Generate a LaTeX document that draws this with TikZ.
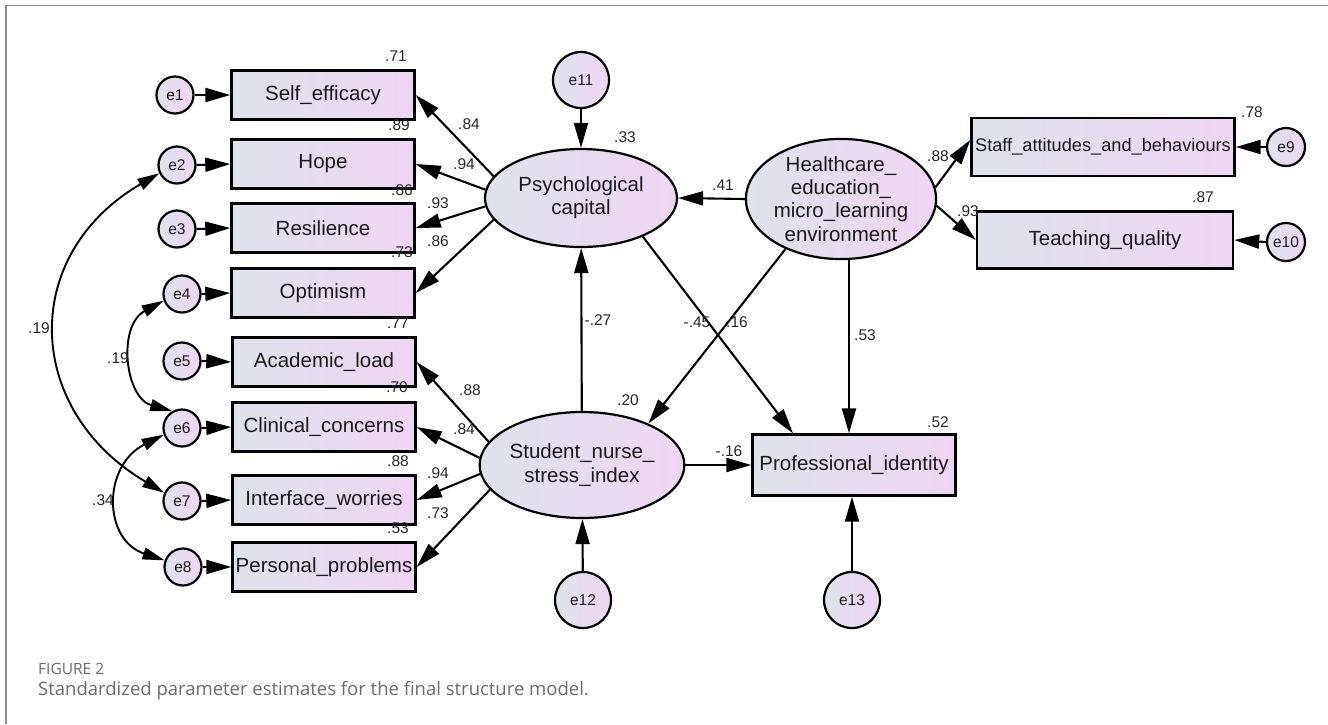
\documentclass[tikz,border=0pt]{standalone}
\usepackage{fontspec}
\setmainfont{Liberation Sans}
\newfontfamily\capfont{Open Sans}
\usetikzlibrary{arrows.meta,shapes.geometric,calc}
\definecolor{gL}{HTML}{DEE3EA}
\definecolor{gR}{HTML}{EED6F3}
\definecolor{frm}{HTML}{8E8E8E}
\definecolor{capc}{HTML}{6B6B6B}
\definecolor{txt}{HTML}{1A1A1A}
\definecolor{numc}{HTML}{262626}
\begin{document}
\begin{tikzpicture}[x=1pt,y=-1pt,
  obs/.style={draw=black,line width=2.4pt,left color=gL,right color=gR,minimum width=183pt,minimum height=49pt,inner sep=0pt,font=\fontsize{20.5}{23}\selectfont,text=txt},
  lat/.style={ellipse,draw=black,line width=2.2pt,left color=gL,right color=gR,inner sep=0pt,align=center,font=\fontsize{20.5}{23.3}\selectfont,text=txt},
  err/.style={circle,draw=black,line width=2.2pt,left color=gL,right color=gR,inner sep=0pt,minimum size=37pt,font=\fontsize{15.5}{17}\selectfont,text=txt},
  bigerr/.style={err,minimum size=56pt},
  arr/.style={line width=2.1pt,-{Triangle[length=25pt,width=14pt]}},
  biarr/.style={line width=1.9pt,{Triangle[length=22pt,width=12pt]}-{Triangle[length=22pt,width=12pt]}},
  num/.style={font=\fontsize{15.5}{17}\selectfont,text=numc,inner sep=0pt}
]
\useasboundingbox[fill=white] (0,0) rectangle (1328,724);
% frame
\draw[frm,line width=1.6pt] (6,724) -- (6,5.5) -- (1328,5.5);

% observed indicators (left)
\node[obs] (b1) at (323,95) {Self\_efficacy};
\node[obs] (b2) at (323,164) {Hope};
\node[obs] (b3) at (323,228) {Resilience};
\node[obs] (b4) at (323,293) {Optimism};
\node[obs] (b5) at (324,362) {Academic\_load};
\node[obs] (b6) at (324,427) {Clinical\_concerns};
\node[obs] (b7) at (324,500) {Interface\_worries};
\node[obs] (b8) at (324,567) {Personal\_problems};

% error circles (left)
\node[err] (e1) at (175,95) {e1};
\node[err] (e2) at (177,165) {e2};
\node[err] (e3) at (177,229) {e3};
\node[err] (e4) at (182,294) {e4};
\node[err] (e5) at (182,361) {e5};
\node[err] (e6) at (182,428) {e6};
\node[err] (e7) at (182,501) {e7};
\node[err] (e8) at (183,567) {e8};

% latent variables
\node[lat,minimum width=192pt,minimum height=98pt] (psy) at (581,198) {Psychological\\capital};
\node[lat,minimum width=186pt,minimum height=112pt] (hc) at (841,199) {Healthcare\_\\education\_\\micro\_learning\\environment};
\node[lat,minimum width=190pt,minimum height=106pt] (stu) at (582,465) {Student\_nurse\_\\stress\_index};

% right side
\node[obs,minimum width=263pt,minimum height=58pt,font=\fontsize{18.2}{21}\selectfont] (staff) at (1103,147) {Staff\_attitudes\_and\_behaviours};
\node[obs,minimum width=256pt,minimum height=57pt] (teach) at (1105,240) {Teaching\_quality};
\node[obs,minimum width=203pt,minimum height=61pt] (prof) at (854,465) {Professional\_identity};
\node[err,minimum size=38pt] (e9) at (1286,147) {e9};
\node[err,minimum size=38pt] (e10) at (1286,242) {e10};
\node[bigerr] (e11) at (581,80) {e11};
\node[bigerr] (e12) at (583,600) {e12};
\node[bigerr] (e13) at (852,600) {e13};

% error arrows
\foreach \i in {1,...,8}{\draw[arr] (e\i.east) -- (b\i.west);}
\draw[arr] (e9.west) -- (staff.east);
\draw[arr] (e10.west) -- (teach.east);
\draw[arr] (e11) -- (psy);
\draw[arr] (e12) -- (stu);
\draw[arr] (e13.north) -- (e13.north |- prof.south);

% loadings
\draw[arr] (psy.166) -- (b1.east);
\draw[arr] (psy.175) -- (b2.east);
\draw[arr] (psy.185) -- (b3.east);
\draw[arr] (psy.194) -- (b4.east);
\draw[arr] (stu.166) -- (b5.east);
\draw[arr] (stu.176) -- (b6.east);
\draw[arr] (stu.185) -- (b7.east);
\draw[arr] (stu.195) -- (b8.east);
\draw[arr] (hc.7) -- ($(staff.west)+(0,-7)$);
\draw[arr] (hc.-4) -- (teach.west);

% structural paths
\draw[arr] (hc.west) -- (psy.east);
\draw[arr] (stu) -- (psy);
\draw[arr] (psy.-32) -- ($(prof.north)+(-61,0)$);
\draw[arr] (hc.222) -- (stu.32);
\draw[arr] ($(hc.south)+(8,-1)$) -- ($(prof.north)+(-5,0)$);
\draw[arr] (stu.east) -- (prof.west);

% covariances
\draw[biarr] (e2.205) .. controls (19,255) and (24,410) .. (e7.155);
\draw[biarr] (e4.200) .. controls (117,326) and (125,398) .. (e6.120);
\draw[biarr] (e6.200) .. controls (102,466) and (103,540) .. (e8.160);

% numbers
\node[num] (n1) at (396,56) {.71};
\node[num] (n2) at (399,125) {.89};
\node[num] (n3) at (402,190) {.86};
\node[num] (n4) at (402,252) {.73};
\node[num] (n5) at (398,323) {.77};
\node[num] (n6) at (397,387) {.70};
\node[num] (n7) at (398,461) {.88};
\node[num] (n8) at (398,528) {.53};
\node[num] (l1) at (469,124) {.84};
\node[num] (l2) at (464,164) {.94};
\node[num] (l3) at (438,203) {.93};
\node[num] (l4) at (438,241) {.86};
\node[num] (l5) at (470,390) {.88};
\node[num] (l6) at (464,429) {.84};
\node[num] (l7) at (438,473) {.94};
\node[num] (l8) at (438,513) {.73};
\node[num] (r1) at (625,137) {.33};
\node[num] (r2) at (628,400) {.20};
\node[num] (r3) at (938,422) {.52};
\node[num] (r4) at (1252,112) {.78};
\node[num] (r5) at (1203,197) {.87};
\node[num] (p1) at (723,185) {.41};
\node[num] (p2) at (598,320) {-.27};
\node[num] (p3) at (697,322) {-.45};
\node[num] (p4) at (737,322) {.16};
\node[num] (p5) at (865,335) {.53};
\node[num] (p6) at (729,451) {-.16};
\node[num] (p7) at (938,156) {.88};
\node[num] (p8) at (968,211) {.93};
\node[num] (c1) at (39,328) {.19};
\node[num] (c2) at (118,358) {.19};
\node[num] (c3) at (103,500) {.34};

% caption
\node[anchor=base west,inner sep=0pt,font=\capfont\fontsize{15.5}{18}\selectfont,text=capc] (fig) at (38,674) {FIGURE 2};
\node[anchor=base west,inner sep=0pt,font=\capfont\fontsize{18.5}{21}\selectfont,text=capc] (cap) at (38,695) {Standardized parameter estimates for the final structure model.};
\end{tikzpicture}
\end{document}
